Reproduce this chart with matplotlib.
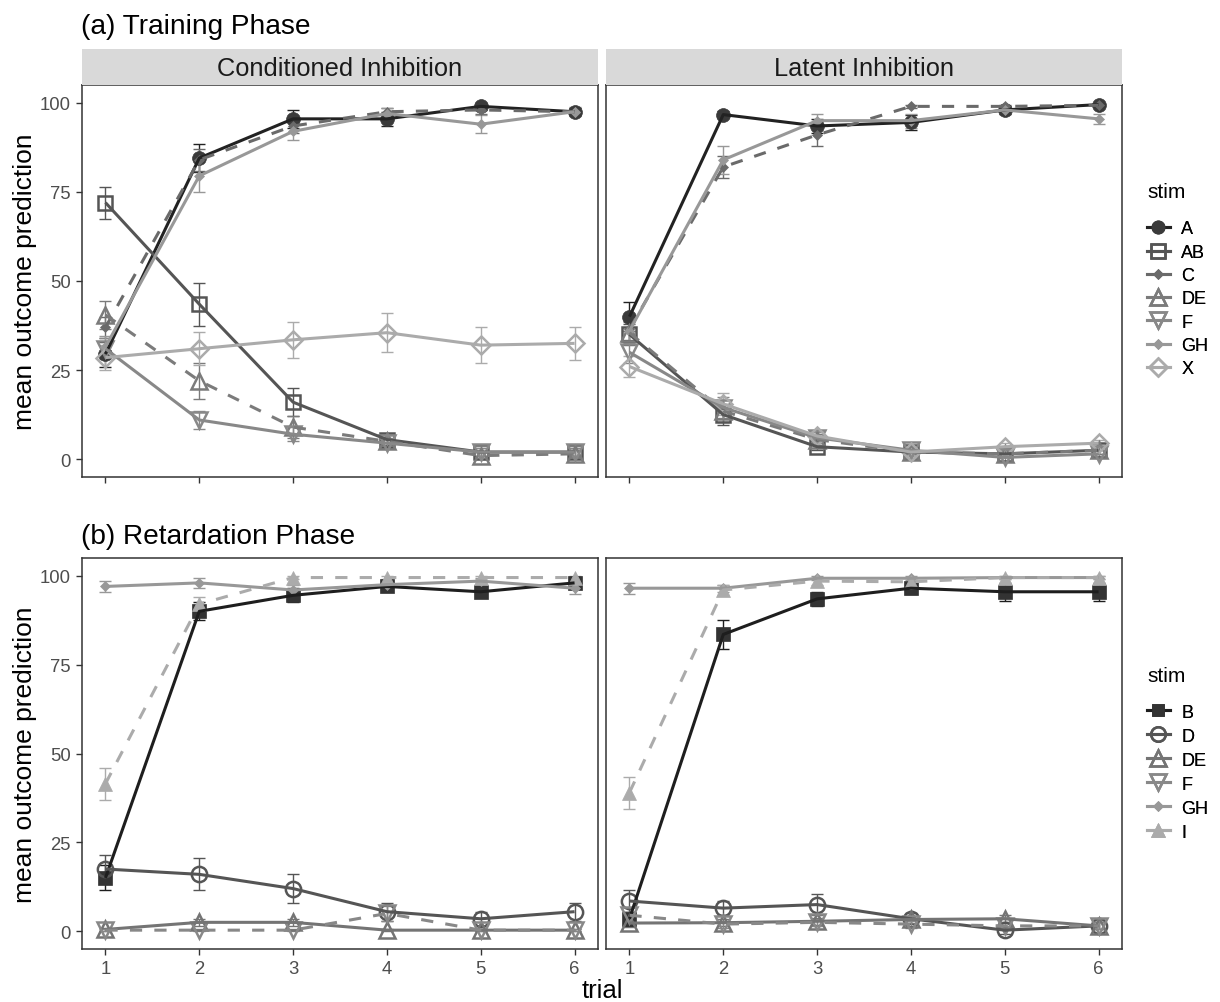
import matplotlib
matplotlib.use("Agg")
import matplotlib.pyplot as plt
from matplotlib.lines import Line2D
from matplotlib.patches import Rectangle
import numpy as np

plt.rcParams['font.family'] = ['Liberation Sans', 'DejaVu Sans']

trials = [1, 2, 3, 4, 5, 6]
y_ticks = [0, 25, 50, 75, 100]
x_ticks = [1, 2, 3, 4, 5, 6]
facet_labels = ["Conditioned Inhibition", "Latent Inhibition"]

# ---------------- Training phase (a) ----------------
train_stims = ["A", "AB", "C", "DE", "F", "GH", "X"]
ci_train_A = [29.5, 84.5, 95.5, 95.5, 99.0, 97.5]
ci_train_AB = [72.0, 43.5, 16.0, 5.5, 2.0, 2.0]
ci_train_C = [37.0, 84.0, 93.5, 97.5, 98.0, 97.5]
ci_train_DE = [40.5, 22.0, 9.0, 5.0, 1.0, 1.5]
ci_train_F = [31.0, 11.0, 7.0, 4.5, 2.0, 2.0]
ci_train_GH = [31.5, 79.5, 92.0, 97.0, 94.0, 97.5]
ci_train_X = [28.5, 31.0, 33.5, 35.5, 32.0, 32.5]
ci_train_A_se = [3.5, 4.0, 2.5, 2.0, 1.0, 1.0]
ci_train_AB_se = [4.5, 6.0, 4.0, 1.5, 1.0, 1.0]
ci_train_C_se = [3.0, 3.0, 2.0, 1.0, 1.0, 1.0]
ci_train_DE_se = [4.0, 5.0, 3.0, 2.0, 1.0, 1.0]
ci_train_F_se = [3.0, 2.5, 2.0, 1.5, 1.0, 1.0]
ci_train_GH_se = [3.0, 4.5, 2.5, 1.5, 2.5, 1.2]
ci_train_X_se = [3.5, 4.7, 5.0, 5.4, 5.0, 4.7]

li_train_A = [40.0, 96.7, 93.5, 94.5, 98.0, 99.5]
li_train_AB = [35.0, 12.5, 3.5, 2.0, 1.5, 2.5]
li_train_C = [36.5, 82.0, 91.0, 99.0, 99.0, 99.3]
li_train_DE = [35.5, 13.5, 5.5, 2.0, 1.5, 2.5]
li_train_F = [30.0, 14.5, 6.0, 2.5, 0.5, 1.5]
li_train_GH = [36.0, 84.0, 95.0, 95.0, 98.0, 95.5]
li_train_X = [26.0, 15.5, 6.5, 2.0, 3.5, 4.5]
li_train_A_se = [4.0, 1.0, 2.0, 2.0, 1.0, 0.5]
li_train_AB_se = [3.0, 3.0, 1.0, 1.0, 1.0, 1.0]
li_train_C_se = [3.0, 3.0, 3.0, 0.5, 0.5, 0.5]
li_train_DE_se = [3.0, 3.0, 1.5, 1.0, 1.0, 1.0]
li_train_F_se = [3.0, 3.0, 1.5, 1.0, 1.0, 1.0]
li_train_GH_se = [3.0, 4.0, 2.0, 2.0, 1.0, 1.5]
li_train_X_se = [3.0, 3.0, 1.5, 1.0, 1.0, 1.0]

# ---------------- Retardation phase (b) ----------------
ret_stims = ["B", "D", "DE", "F", "GH", "I"]
ci_ret_B = [15.0, 90.0, 94.5, 97.0, 95.5, 98.0]
ci_ret_D = [17.5, 16.0, 12.0, 5.5, 3.5, 5.5]
ci_ret_DE = [0.5, 2.5, 2.5, 0.3, 0.3, 0.3]
ci_ret_F = [0.3, 0.3, 0.3, 5.0, 0.3, 0.3]
ci_ret_GH = [97.0, 98.0, 96.0, 97.5, 98.5, 96.5]
ci_ret_I = [41.5, 92.0, 99.5, 99.5, 99.5, 99.5]
ci_ret_B_se = [3.5, 2.5, 2.0, 1.0, 1.5, 1.0]
ci_ret_D_se = [4.0, 4.5, 4.0, 2.5, 2.0, 2.5]
ci_ret_DE_se = [0.5, 1.0, 1.0, 0.3, 0.3, 0.3]
ci_ret_F_se = [0.3, 0.3, 0.3, 2.0, 0.3, 0.3]
ci_ret_GH_se = [1.5, 1.5, 1.5, 1.0, 1.0, 1.5]
ci_ret_I_se = [4.5, 2.0, 0.5, 0.5, 0.5, 0.5]

li_ret_B = [3.5, 83.5, 93.5, 96.5, 95.5, 95.5]
li_ret_D = [8.5, 6.5, 7.5, 3.5, 0.3, 1.5]
li_ret_DE = [2.3, 2.4, 2.8, 3.3, 3.5, 1.5]
li_ret_F = [4.5, 2.0, 2.5, 2.0, 1.5, 1.5]
li_ret_GH = [96.5, 96.5, 99.3, 99.3, 99.5, 99.5]
li_ret_I = [39.0, 96.0, 98.5, 98.3, 99.5, 99.5]
li_ret_B_se = [2.0, 4.0, 2.0, 1.5, 2.5, 2.5]
li_ret_D_se = [3.0, 2.0, 3.0, 1.5, 1.0, 1.0]
li_ret_DE_se = [1.0, 1.0, 1.0, 1.0, 1.0, 1.0]
li_ret_F_se = [1.0, 1.0, 1.0, 1.0, 1.0, 1.0]
li_ret_GH_se = [1.5, 1.0, 0.5, 0.5, 0.5, 0.5]
li_ret_I_se = [4.5, 1.5, 1.0, 1.0, 0.5, 0.5]

# ---------------- styles ----------------
train_style = {
    "A":  dict(color="#222222", mfc="#3a3a3a", marker="o", ms=10, open=False, ls="-"),
    "AB": dict(color="#555555", mfc="none", marker="s", ms=10.5, open=True, ls="-"),
    "C":  dict(color="#6a6a6a", mfc="#6a6a6a", marker="D", ms=5.5, open=False, ls="--"),
    "DE": dict(color="#7b7b7b", mfc="none", marker="^", ms=12, open=True, ls="--"),
    "F":  dict(color="#888888", mfc="none", marker="v", ms=12, open=True, ls="-"),
    "GH": dict(color="#989898", mfc="#989898", marker="D", ms=5.5, open=False, ls="-"),
    "X":  dict(color="#ababab", mfc="none", marker="D", ms=9.5, open=True, ls="-"),
}
ret_style = {
    "B":  dict(color="#1e1e1e", mfc="#333333", marker="s", ms=9.5, open=False, ls="-"),
    "D":  dict(color="#555555", mfc="none", marker="o", ms=11, open=True, ls="-"),
    "DE": dict(color="#747474", mfc="none", marker="^", ms=12, open=True, ls="-"),
    "F":  dict(color="#888888", mfc="none", marker="v", ms=12, open=True, ls="--"),
    "GH": dict(color="#989898", mfc="#989898", marker="D", ms=5.5, open=False, ls="-"),
    "I":  dict(color="#ababab", mfc="#ababab", marker="^", ms=10.5, open=False, ls="--"),
}

panels = {
    ("train", 0): {s: (globals()[f"ci_train_{s}"], globals()[f"ci_train_{s}_se"]) for s in train_stims},
    ("train", 1): {s: (globals()[f"li_train_{s}"], globals()[f"li_train_{s}_se"]) for s in train_stims},
    ("ret", 0): {s: (globals()[f"ci_ret_{s}"], globals()[f"ci_ret_{s}_se"]) for s in ret_stims},
    ("ret", 1): {s: (globals()[f"li_ret_{s}"], globals()[f"li_ret_{s}_se"]) for s in ret_stims},
}

W, H = 1220, 1003
fig = plt.figure(figsize=(W / 100, H / 100), dpi=100)


def add_ax(x0, x1, ytop, ybot):
    return fig.add_axes([x0 / W, 1 - ybot / H, (x1 - x0) / W, (ybot - ytop) / H])


col_x = [(82, 598), (606, 1122)]
row_y = {"train": (86, 478), "ret": (559, 950)}
border = "#333333"
LW = 2.2

for (phase, col), series in panels.items():
    x0, x1 = col_x[col]
    yt, yb = row_y[phase]
    ax = add_ax(x0, x1, yt, yb)
    styles = train_style if phase == "train" else ret_style
    for s, (vals, se) in series.items():
        st = styles[s]
        ax.errorbar(trials, vals, yerr=se, fmt="none", ecolor=st["color"],
                    elinewidth=1.0, capsize=4, capthick=1.0, zorder=2)
    for s, (vals, se) in series.items():
        st = styles[s]
        ax.plot(trials, vals, linestyle="none", marker=st["marker"], ms=st["ms"],
                mfc=st["mfc"], mec=st["color"] if st["open"] else st["mfc"],
                mew=1.8 if st["open"] else 0.5, zorder=3)
    for s, (vals, se) in series.items():
        st = styles[s]
        ln, = ax.plot(trials, vals, color=st["color"], lw=LW, zorder=4,
                      solid_capstyle="butt")
        if st["ls"] == "--":
            ln.set_dashes((4, 4))
    ax.set_xlim(0.75, 6.25)
    ax.set_ylim(-5, 105)
    ax.set_xticks(x_ticks)
    ax.set_yticks(y_ticks)
    for sp in ax.spines.values():
        sp.set_color(border)
        sp.set_linewidth(1.1)
    ax.tick_params(axis="both", length=4, width=1.0, color=border,
                   labelsize=13.3, labelcolor="#4d4d4d", pad=4)
    if phase == "train":
        ax.tick_params(axis="x", labelbottom=False)
    if col == 1:
        ax.tick_params(axis="y", left=False, labelleft=False)
    ax.set_facecolor("white")
    if phase == "train":
        sax = add_ax(x0, x1, 50, 86)
        sax.add_patch(Rectangle((0, 0), 1, 1, transform=sax.transAxes,
                                facecolor="#d9d9d9", edgecolor="none"))
        sax.set_xticks([])
        sax.set_yticks([])
        for sp in sax.spines.values():
            sp.set_visible(False)
        sax.text(0.5, 0.47, facet_labels[col], ha="center", va="center",
                 fontsize=18.3, color="#1a1a1a", transform=sax.transAxes)

# titles and axis labels
fig.text(81 / W, 1 - 27 / H, "(a) Training Phase", ha="left", va="center",
         fontsize=20.2, color="black")
fig.text(81 / W, 1 - 537 / H, "(b) Retardation Phase", ha="left", va="center",
         fontsize=20.2, color="black")
fig.text(25 / W, 1 - 282 / H, "mean outcome prediction", rotation=90,
         ha="center", va="center", fontsize=19)
fig.text(25 / W, 1 - 755 / H, "mean outcome prediction", rotation=90,
         ha="center", va="center", fontsize=19)
fig.text(602 / W, 1 - 991 / H, "trial", ha="center", va="center", fontsize=18.5)


def make_handles(styles, names):
    hs = []
    for s in names:
        st = styles[s]
        hs.append(Line2D([0], [0], color=st["color"], lw=LW, marker=st["marker"],
                         ms=st["ms"] * 0.95, mfc=st["mfc"],
                         mec=st["color"] if st["open"] else st["mfc"],
                         mew=1.8 if st["open"] else 0.5))
    return hs


for names, styles, title_y, ytop, lsp in [(train_stims, train_style, 192, 221.5, 0.35),
                                          (ret_stims, ret_style, 677, 704.5, 0.39)]:
    fig.text(1147 / W, 1 - title_y / H, "stim", ha="left", va="center",
             fontsize=15, color="black")
    leg = fig.legend(make_handles(styles, names), names,
                     loc="upper left", bbox_to_anchor=(1147 / W, 1 - ytop / H),
                     frameon=False, fontsize=13,
                     handlelength=1.25, handletextpad=0.65, labelspacing=lsp,
                     borderpad=0, borderaxespad=0)
    fig.add_artist(leg)

fig.savefig("out.png", dpi=100, facecolor="white")
